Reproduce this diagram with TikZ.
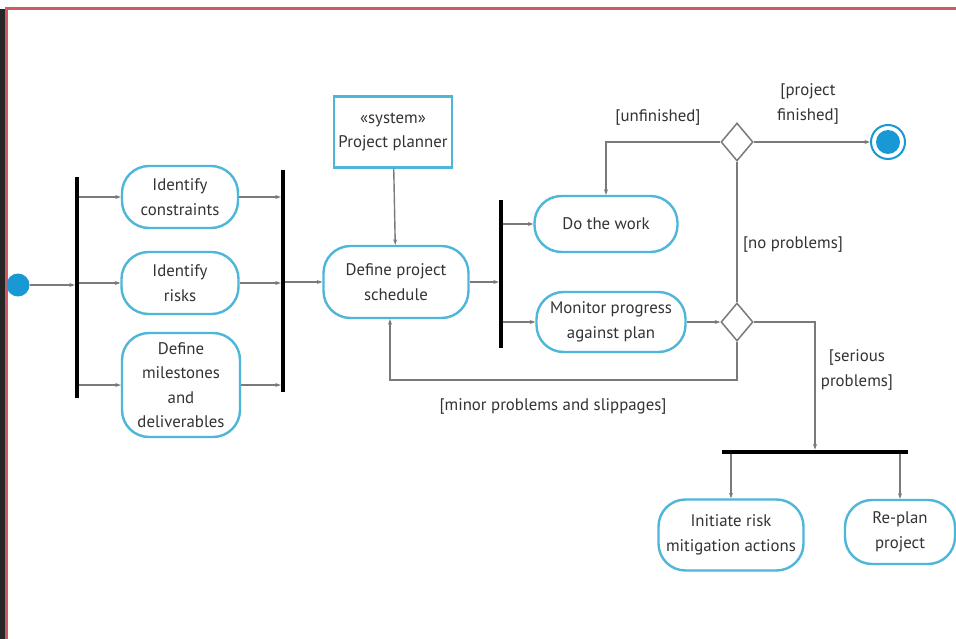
\documentclass[tikz,border=0pt]{standalone}
\usepackage{fontspec}
\setmainfont{PT Sans}
\usetikzlibrary{arrows.meta,shapes.geometric,calc}
\definecolor{actblue}{HTML}{4DB6D9}
\definecolor{dotblue}{HTML}{1898D5}
\definecolor{linegray}{HTML}{7A7A7A}
\definecolor{txtgray}{HTML}{333333}
\definecolor{framered}{HTML}{D05A64}
\begin{document}
\begin{tikzpicture}[x=1pt,y=-1pt,
  every node/.style={font=\fontsize{16.8}{24.5}\selectfont, text=txtgray},
  act/.style={draw=actblue, line width=2.4pt, rounded corners=27pt, align=center, inner sep=1pt, fill=white},
  sysbox/.style={draw=actblue, line width=2.4pt, align=center, inner sep=1pt},
  vbar/.style={fill=black, inner sep=0pt, minimum width=4pt},
  hbar/.style={fill=black, inner sep=0pt, minimum height=4.5pt},
  dec/.style={diamond, draw=linegray, line width=1.5pt, inner sep=0pt, minimum width=32pt, minimum height=38pt, fill=white},
  arr/.style={draw=linegray, line width=1.4pt, -{Stealth[length=5.5pt,width=4pt]}},
  ln/.style={draw=linegray, line width=1.4pt},
  lbl/.style={align=center, inner sep=0pt}
]
\useasboundingbox (0,0) rectangle (956,639);
\fill[white] (0,0) rectangle (956,639);
% frame
\fill[black!85] (0,9) rectangle (4.5,639);
\draw[framered, line width=3pt] (5,9) -- (956,9);
\draw[framered, line width=3pt] (6.5,9) -- (6.5,639);

% start
\node[circle, fill=dotblue, minimum size=23pt, inner sep=0pt] (start) at (18,285) {};
% bars
\node[vbar, minimum height=221pt] (b1) at (77,287.5) {};
\node[vbar, minimum height=222pt] (b2) at (283,281) {};
\node[vbar, minimum height=148pt] (b3) at (501,274) {};
\node[hbar, minimum width=186pt] (b4) at (815,452) {};

% activities
\node[act, minimum width=116pt, minimum height=62pt] (ic) at (180,197) {Identify\\constraints};
\node[act, minimum width=117pt, minimum height=62pt] (ir) at (180,283) {Identify\\risks};
\node[act, minimum width=118pt, minimum height=104pt] (dm) at (181,385) {Define\\milestones\\and\\deliverables};
\node[sysbox, minimum width=118pt, minimum height=71pt] (sys) at (393,132) {«system»\\Project planner};
\node[act, minimum width=145pt, minimum height=72pt] (sch) at (396,282) {Define project\\schedule};
\node[act, minimum width=143pt, minimum height=56pt] (dw) at (606,224) {Do the work};
\node[act, minimum width=149pt, minimum height=60pt] (mon) at (611,322) {Monitor progress\\against plan};
\node[act, minimum width=145pt, minimum height=71pt] (ini) at (731,535) {Initiate risk\\mitigation actions};
\node[act, minimum width=110pt, minimum height=64pt] (rep) at (900,532) {Re-plan\\project};

% decisions
\node[dec] (d1) at (737,142) {};
\node[dec] (d2) at (737,322) {};
% final
\node[circle, draw=dotblue, line width=2pt, minimum size=34pt, inner sep=0pt] (fin) at (888,142) {};
\node[circle, fill=dotblue, minimum size=24pt, inner sep=0pt] at (fin) {};

% connectors
\draw[arr] (start) -- (b1.west |- start);
\draw[arr] (b1.east |- ic) -- (ic);
\draw[arr] (b1.east |- ir) -- (ir);
\draw[arr] (b1.east |- dm) -- (dm);
\draw[arr] (ic) -- (b2.west |- ic);
\draw[arr] (ir) -- (b2.west |- ir);
\draw[arr] (dm) -- (b2.west |- dm);
\draw[arr] (b2.east |- sch) -- (sch);
\draw[arr] (sys) -- (sch);
\draw[arr] (sch) -- (b3.west |- sch);
\draw[arr] (b3.east |- dw) -- (dw);
\draw[arr] (b3.east |- mon) -- (mon);
\draw[arr] (mon) -- (d2);
\draw[ln] (d2.north) -- (d1.south);
\draw[arr] (d1.west) -| (dw.north);
\draw[arr] (d1) -- (fin);
\coordinate (loop) at (390,380);
\draw[arr] (d2.south) |- (loop) -- (loop |- sch.south);
\draw[arr] (d2.east) -| (b4.north);
\draw[arr] (b4.south -| ini) -- (ini);
\draw[arr] (b4.south -| rep) -- (rep);

% labels
\node[lbl] (l1) at (658,117) {[unfinished]};
\node[lbl] (l2) at (808,104) {[project\\finished]};
\node[lbl] (l3) at (793,245) {[no problems]};
\node[lbl] (l4) at (553,406) {[minor problems and slippages]};
\node[lbl] (l5) at (857,370) {[serious\\problems]};
\end{tikzpicture}
\end{document}
